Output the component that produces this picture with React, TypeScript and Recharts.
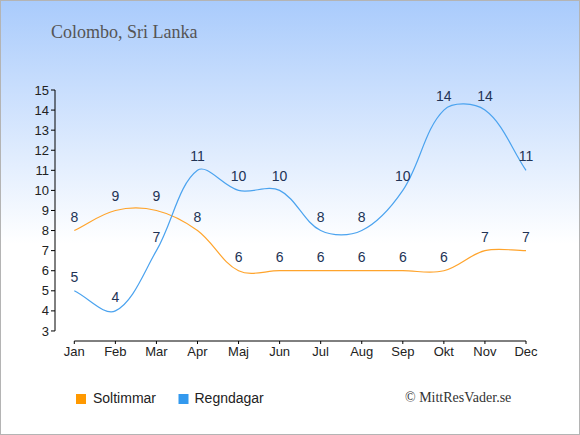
import React from "react"
import { LineChart, Line, XAxis, YAxis, LabelList, ReferenceLine } from "recharts"

const months = ["Jan", "Feb", "Mar", "Apr", "Maj", "Jun", "Jul", "Aug", "Sep", "Okt", "Nov", "Dec"]
const soltimmar = [8, 9, 9, 8, 6, 6, 6, 6, 6, 6, 7, 7]
const regndagar = [5, 4, 7, 11, 10, 10, 8, 8, 10, 14, 14, 11]
const yTicks = [3, 4, 5, 6, 7, 8, 9, 10, 11, 12, 13, 14, 15]
const xTicks = [0, 1, 2, 3, 4, 5, 6, 7, 8, 9, 10, 11]

const data = months.map((month, idx) => ({
  idx,
  month,
  sol: soltimmar[idx],
  regn: regndagar[idx],
}))

// spline like chart.js: control points scaled by the distance to the neighbours
const TENSION = 0.35
const splineCurve = (context: any) => {
  let pts: [number, number][] = []
  return {
    areaStart() {},
    areaEnd() {},
    lineStart() {
      pts = []
    },
    point(x: number, y: number) {
      pts.push([+x, +y])
    },
    lineEnd() {
      const n = pts.length
      if (!n) return
      context.moveTo(pts[0][0], pts[0][1])
      if (n === 1) return
      const cps = pts.map((p, i) => {
        const prev = pts[i - 1] ?? p
        const next = pts[i + 1] ?? p
        const d01 = Math.hypot(p[0] - prev[0], p[1] - prev[1])
        const d12 = Math.hypot(next[0] - p[0], next[1] - p[1])
        const s = d01 + d12 || 1
        const fa = (TENSION * d01) / s
        const fb = (TENSION * d12) / s
        return {
          in: [p[0] - fa * (next[0] - prev[0]), p[1] - fa * (next[1] - prev[1])],
          out: [p[0] + fb * (next[0] - prev[0]), p[1] + fb * (next[1] - prev[1])],
        }
      })
      for (let i = 0; i < n - 1; i++) {
        context.bezierCurveTo(
          cps[i].out[0], cps[i].out[1],
          cps[i + 1].in[0], cps[i + 1].in[1],
          pts[i + 1][0], pts[i + 1][1]
        )
      }
    },
  }
}

const SOL = "#ffa42c"
const REGN = "#4ba3ef"

export default function App() {
  return (
    <div
      style={{
        position: "relative",
        width: 580,
        height: 435,
        fontFamily: "'Liberation Sans', Arial, sans-serif",
        background: "linear-gradient(#a9cbfc 0%, #ffffff 56%, #ffffff 100%)",
      }}
    >
      <style>{"body{margin:0}"}</style>
      <LineChart
        width={580}
        height={435}
        data={data}
        margin={{ top: 90, right: 54, bottom: 64, left: 5 }}
      >
        <XAxis
          type="number"
          dataKey="idx"
          domain={[-0.47, 11]}
          ticks={xTicks}
          interval={0}
          tickFormatter={(i: number) => months[i]}
          axisLine={false}
          tickLine={{ stroke: "#000" }}
          tickSize={3}
          tickMargin={3}
          height={30}
          tick={{ fill: "#222", fontSize: 13 }}
        />
        <YAxis
          domain={[2.5, 15]}
          ticks={yTicks}
          interval={0}
          axisLine={false}
          tickLine={{ stroke: "#000" }}
          tickSize={4}
          width={50}
          tick={{ fill: "#222", fontSize: 13 }}
        />
        <ReferenceLine
          segment={[{ x: 0, y: 2.5 }, { x: 11, y: 2.5 }]}
          stroke="#000"
          ifOverflow="visible"
        />
        <ReferenceLine
          segment={[{ x: -0.47, y: 3 }, { x: -0.47, y: 15 }]}
          stroke="#000"
          ifOverflow="visible"
        />
        <Line
          dataKey="sol"
          type={splineCurve as any}
          stroke={SOL}
          strokeWidth={1.2}
          dot={false}
          isAnimationActive={false}
        >
          <LabelList dataKey="sol" position="top" offset={9} fill="#223355" fontSize={14} />
        </Line>
        <Line
          dataKey="regn"
          type={splineCurve as any}
          stroke={REGN}
          strokeWidth={1.2}
          dot={false}
          isAnimationActive={false}
        >
          <LabelList dataKey="regn" position="top" offset={9} fill="#223355" fontSize={14} />
        </Line>
      </LineChart>
      <svg
        width={580}
        height={435}
        style={{ position: "absolute", left: 0, top: 0, pointerEvents: "none" }}
      >
        <text x={51} y={38} fontFamily="'Liberation Serif', serif" fontSize={18} fill="#555">
          Colombo, Sri Lanka
        </text>
        <rect x={76} y={394} width={10} height={10} fill="#ff9900" />
        <text x={93} y={403} fontSize={14} fill="#222">Soltimmar</text>
        <rect x={178.5} y={394} width={10} height={10} fill="#3399ee" />
        <text x={194.5} y={403} fontSize={14} fill="#222">Regndagar</text>
        <text x={405} y={402} fontFamily="'Liberation Serif', serif" fontSize={14} fill="#333">
          © MittResVader.se
        </text>
      </svg>
      <div
        style={{
          position: "absolute",
          inset: 0,
          border: "1px solid #b4b4b4",
          pointerEvents: "none",
        }}
      />
    </div>
  )
}
